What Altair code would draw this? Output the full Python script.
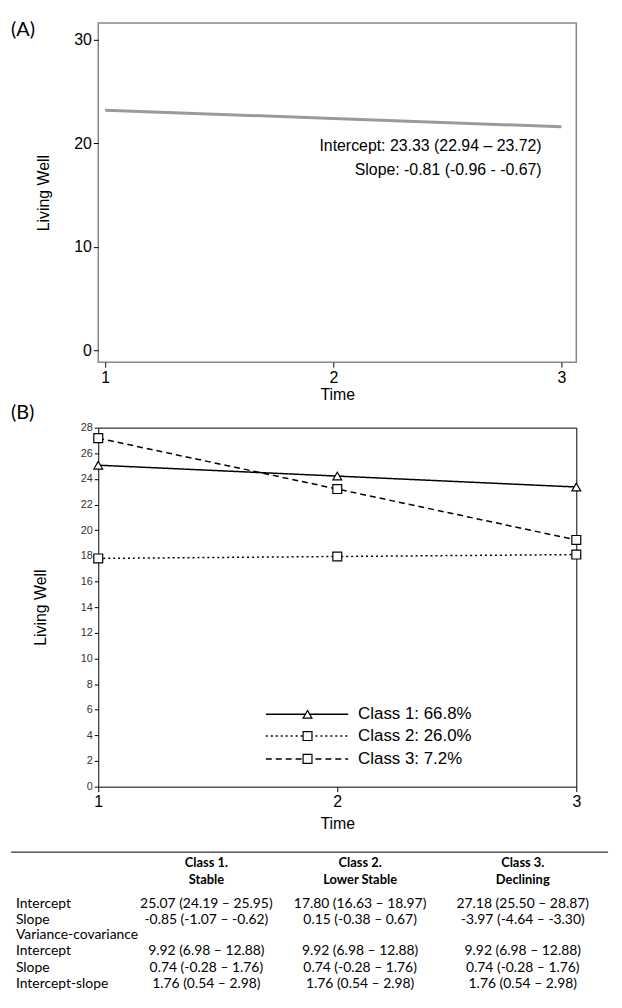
import altair as alt
import pandas as pd

time = [1, 2, 3]
a_values = [23.2, 22.4, 21.6]
a_notes = ["Intercept: 23.33 (22.94 – 23.72)", "Slope: -0.81 (-0.96 - -0.67)"]

classes = ["Class 1: 66.8%", "Class 2: 26.0%", "Class 3: 7.2%"]
c1 = [25.07, 24.22, 23.37]
c2 = [17.80, 17.95, 18.10]
c3 = [27.18, 23.21, 19.24]

col_heads1 = ["Class 1.", "Class 2.", "Class 3."]
col_heads2 = ["Stable", "Lower Stable", "Declining"]
row_labels = ["Intercept", "Slope", "Variance-covariance", "Intercept", "Slope", "Intercept-slope"]
cells = [
    ["25.07 (24.19 – 25.95)", "17.80 (16.63 – 18.97)", "27.18 (25.50 – 28.87)"],
    ["-0.85 (-1.07 – -0.62)", "0.15 (-0.38 – 0.67)", "-3.97 (-4.64 – -3.30)"],
    ["", "", ""],
    ["9.92 (6.98 – 12.88)", "9.92 (6.98 – 12.88)", "9.92 (6.98 – 12.88)"],
    ["0.74 (-0.28 – 1.76)", "0.74 (-0.28 – 1.76)", "0.74 (-0.28 – 1.76)"],
    ["1.76 (0.54 – 2.98)", "1.76 (0.54 – 2.98)", "1.76 (0.54 – 2.98)"],
]

FONT = "Liberation Sans"
TFONT = "Lato"
W = 482

def xaxis(pad):
    return alt.Axis(tickCount=3, tickMinStep=1, format="d", title="Time", grid=False, domain=False,
                    labelFontSize=16, titleFontSize=16, labelFont=FONT, titleFont=FONT,
                    labelColor="black", titleColor="black", tickColor="black", titleFontWeight="normal",
                    titlePadding=pad, labelOverlap=False, labelFlush=False)

# ---------- Panel A ----------
dfa = pd.DataFrame({"Time": time, "LW": a_values})
xa = alt.X("Time:Q", scale=alt.Scale(domain=[0.97, 3.065], nice=False, zero=False), axis=xaxis(2))
ya = alt.Y("LW:Q", scale=alt.Scale(domain=[-1.15, 31.63], nice=False, zero=False),
           axis=alt.Axis(values=[0, 10, 20, 30], title="Living Well", grid=False, domain=False,
                         labelFontSize=16, titleFontSize=16, labelFont=FONT, titleFont=FONT,
                         labelColor="black", titleColor="black", tickColor="black", titleFontWeight="normal",
                         titlePadding=22, labelOverlap=False))
lineA = alt.Chart(dfa).mark_line(color="#9a9a9a", strokeWidth=3).encode(x=xa, y=ya)
notesA = alt.layer(*[
    alt.Chart(pd.DataFrame({"t": [t]})).mark_text(align="right", baseline="middle", fontSize=16, font=FONT,
                                                  color="black").encode(
        text="t:N", x=alt.value(447), y=alt.value(yy))
    for t, yy in zip(a_notes, [124, 148])
])
labA = alt.Chart(pd.DataFrame({"t": ["(A)"]})).mark_text(align="left", baseline="middle", fontSize=20,
                                                         font=TFONT, color="black").encode(
    text="t:N", x=alt.value(-88), y=alt.value(7))
panelA = alt.layer(lineA, notesA, labA).properties(width=W, height=342,
                                                  view=alt.ViewBackground(stroke="#888888", strokeWidth=1.5))

# ---------- Panel B ----------
rows = []
for name, vals in zip(classes, [c1, c2, c3]):
    for t, v in zip(time, vals):
        rows.append({"Time": t, "LW": v, "Class": name})
dfb = pd.DataFrame(rows)
xb = alt.X("Time:Q", scale=alt.Scale(domain=[1, 3], nice=False, zero=False), axis=xaxis(6))
yb = alt.Y("LW:Q", scale=alt.Scale(domain=[0, 28], nice=False, zero=False),
           axis=alt.Axis(values=list(range(0, 29, 2)), title="Living Well", grid=False, domain=False,
                         labelFontSize=11, titleFontSize=16, labelFont=FONT, titleFont=FONT,
                         labelColor="#333333", titleColor="black", tickColor="black", tickSize=4,
                         titleFontWeight="normal", titlePadding=32, labelOverlap=False))
dashes = [[1, 0], [2, 3], [6, 4]]
shapes = ["triangle-up", "square", "square"]
layersB = []
for i, name in enumerate(classes):
    d = dfb[dfb["Class"] == name]
    layersB.append(alt.Chart(d).mark_line(color="black", strokeWidth=1.5, strokeDash=dashes[i]).encode(x=xb, y=yb))
    layersB.append(alt.Chart(d).mark_point(shape=shapes[i], size=80, filled=True, fill="white", stroke="black",
                                           strokeWidth=1.2, opacity=1).encode(x=xb, y=yb))
for i, name in enumerate(classes):
    yy = [289, 311, 334][i]
    ld = pd.DataFrame({"t": [name]})
    layersB.append(alt.Chart(ld).mark_rule(color="black", strokeWidth=1.5, strokeDash=dashes[i]).encode(
        x=alt.value(169), x2=alt.value(252), y=alt.value(yy)))
    layersB.append(alt.Chart(ld).mark_point(shape=shapes[i], size=80, filled=True, fill="white", stroke="black",
                                            strokeWidth=1.2, opacity=1).encode(x=alt.value(211), y=alt.value(yy)))
    layersB.append(alt.Chart(ld).mark_text(align="left", baseline="middle", fontSize=17, font=FONT,
                                           color="black").encode(text="t:N", x=alt.value(262), y=alt.value(yy)))
layersB.append(alt.Chart(pd.DataFrame({"t": ["(B)"]})).mark_text(align="left", baseline="middle", fontSize=20,
                                                                font=TFONT, color="black").encode(
    text="t:N", x=alt.value(-88), y=alt.value(-15)))
panelB = alt.layer(*layersB).properties(width=W, height=362,
                                       view=alt.ViewBackground(stroke="black", strokeWidth=1))

# ---------- Table ----------
col_x = [109, 264, 428]
tl = []
tl.append(alt.Chart(pd.DataFrame({"a": [0]})).mark_rule(color="black", strokeWidth=1).encode(
    x=alt.value(-88), x2=alt.value(514), y=alt.value(0)))
for j in range(3):
    for txt, yy in [(col_heads1[j], 11), (col_heads2[j], 28)]:
        tl.append(alt.Chart(pd.DataFrame({"t": [txt]})).mark_text(
            align="center", baseline="middle", fontSize=13, font=TFONT, fontWeight="bold", color="black").encode(
            text="t:N", x=alt.value(col_x[j]), y=alt.value(yy)))
row_y = [52, 68, 84, 100, 117, 133]
for i, lab in enumerate(row_labels):
    tl.append(alt.Chart(pd.DataFrame({"t": [lab]})).mark_text(
        align="left", baseline="middle", fontSize=14, font=TFONT, color="black").encode(
        text="t:N", x=alt.value(-83), y=alt.value(row_y[i])))
    for j in range(3):
        if cells[i][j]:
            tl.append(alt.Chart(pd.DataFrame({"t": [cells[i][j]]})).mark_text(
                align="center", baseline="middle", fontSize=14, font=TFONT, color="black").encode(
                text="t:N", x=alt.value(col_x[j]), y=alt.value(row_y[i])))
table = alt.layer(*tl).properties(width=W, height=140, view=alt.ViewBackground(stroke=None))

chart = alt.vconcat(panelA, panelB, table, spacing=66, bounds="flush").properties(
    padding={"left": 2, "top": 7, "right": 5, "bottom": 5}
).configure(background="white")

chart.save("out.html", embed_options={"renderer": "svg", "actions": False})
